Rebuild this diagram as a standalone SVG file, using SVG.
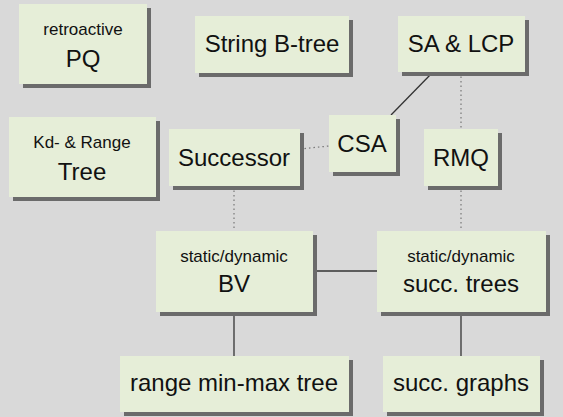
<svg xmlns="http://www.w3.org/2000/svg" width="563" height="417" viewBox="0 0 563 417">
<defs>
<style>
.sh{fill:#6b6b6b}
.bx{fill:#e6eed8}
.t{font-family:"Liberation Sans",Arial,sans-serif;fill:#111;text-anchor:middle}
.big{font-size:24px}
.sm{font-size:17px}
.solid{stroke:#333;stroke-width:1.3;fill:none}
.dot{stroke:#777;stroke-width:1.2;stroke-dasharray:1.5 3;fill:none}
</style>
</defs>
<rect x="0" y="0" width="563" height="417" fill="#d9d9d9"/>
<g id="connectors">
<line class="dot" x1="300" y1="149" x2="329" y2="146"/>
<line class="solid" x1="432" y1="73" x2="391" y2="115"/>
<line class="dot" x1="461" y1="72" x2="461" y2="129"/>
<line class="dot" x1="461" y1="186" x2="461" y2="231"/>
<line class="dot" x1="234" y1="186" x2="234" y2="231"/>
<line class="solid" x1="313" y1="271" x2="377" y2="271"/>
<line class="solid" x1="234" y1="312" x2="234" y2="356"/>
<line class="solid" x1="461" y1="312" x2="461" y2="356"/>
</g>
<g id="pq">
<rect class="sh" x="23" y="8" width="128" height="80"/>
<rect class="bx" x="19" y="4" width="128" height="80"/>
<text class="t sm" x="83" y="35">retroactive</text>
<text class="t big" x="83" y="67">PQ</text>
</g>
<g id="kdtree">
<rect class="sh" x="13" y="121" width="147" height="80"/>
<rect class="bx" x="9" y="117" width="147" height="80"/>
<text class="t sm" x="82" y="148">Kd- &amp; Range</text>
<text class="t big" x="82" y="180">Tree</text>
</g>
<g id="stringbtree">
<rect class="sh" x="199" y="20" width="154" height="57"/>
<rect class="bx" x="195" y="16" width="154" height="57"/>
<text class="t big" x="272" y="52">String B-tree</text>
</g>
<g id="salcp">
<rect class="sh" x="402" y="20" width="127" height="56"/>
<rect class="bx" x="398" y="16" width="127" height="56"/>
<text class="t big" x="461" y="52">SA &amp; LCP</text>
</g>
<g id="successor">
<rect class="sh" x="173" y="133" width="131" height="57"/>
<rect class="bx" x="169" y="129" width="131" height="57"/>
<text class="t big" x="234" y="166">Successor</text>
</g>
<g id="csa">
<rect class="sh" x="333" y="119" width="67" height="57"/>
<rect class="bx" x="329" y="115" width="67" height="57"/>
<text class="t big" x="362" y="152">CSA</text>
</g>
<g id="rmq">
<rect class="sh" x="428" y="133" width="74" height="57"/>
<rect class="bx" x="424" y="129" width="74" height="57"/>
<text class="t big" x="461" y="166">RMQ</text>
</g>
<g id="bv">
<rect class="sh" x="160" y="235" width="157" height="81"/>
<rect class="bx" x="156" y="231" width="157" height="81"/>
<text class="t sm" x="234" y="262">static/dynamic</text>
<text class="t big" x="234" y="292">BV</text>
</g>
<g id="succtrees">
<rect class="sh" x="381" y="235" width="169" height="81"/>
<rect class="bx" x="377" y="231" width="169" height="81"/>
<text class="t sm" x="461" y="262">static/dynamic</text>
<text class="t big" x="461" y="292">succ. trees</text>
</g>
<g id="rmmtree">
<rect class="sh" x="124" y="360" width="229" height="56"/>
<rect class="bx" x="120" y="356" width="229" height="56"/>
<text class="t big" x="234" y="391">range min-max tree</text>
</g>
<g id="succgraphs">
<rect class="sh" x="387" y="360" width="157" height="56"/>
<rect class="bx" x="383" y="356" width="157" height="56"/>
<text class="t big" x="461" y="391">succ. graphs</text>
</g>
</svg>
